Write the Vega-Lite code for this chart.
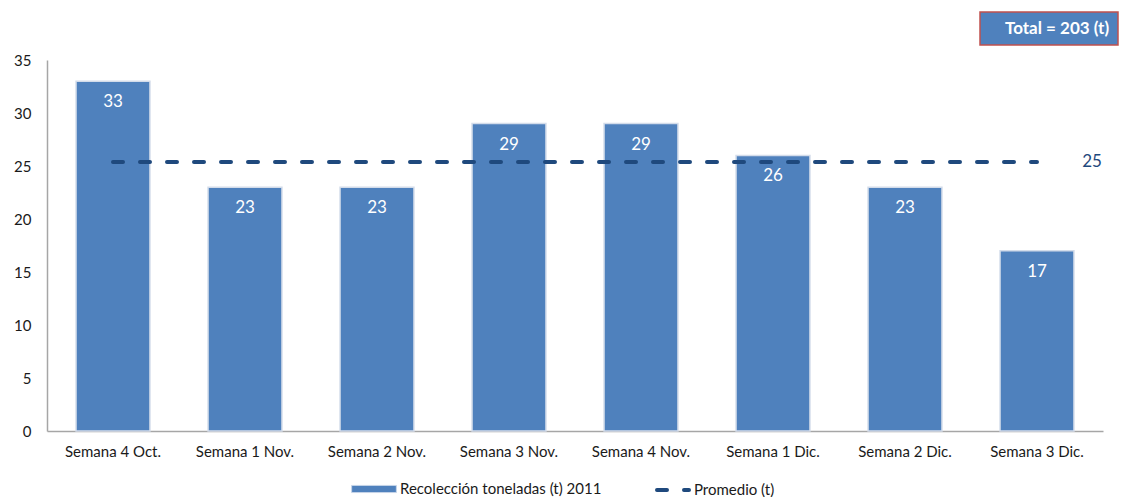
{
  "$schema": "https://vega.github.io/schema/vega-lite/v6.json",
  "description": "Recolección semanal de toneladas 2011 con promedio",
  "autosize": {"type": "none"},
  "padding": {"left": 47, "top": 60, "right": 23, "bottom": 66},
  "width": 1056,
  "height": 371,
  "data": {
    "values": [
      {"semana": "Semana 4 Oct.", "toneladas": 33, "promedio": 25.375},
      {"semana": "Semana 1 Nov.", "toneladas": 23, "promedio": 25.375},
      {"semana": "Semana 2 Nov.", "toneladas": 23, "promedio": 25.375},
      {"semana": "Semana 3 Nov.", "toneladas": 29, "promedio": 25.375},
      {"semana": "Semana 4 Nov.", "toneladas": 29, "promedio": 25.375},
      {"semana": "Semana 1 Dic.", "toneladas": 26, "promedio": 25.375},
      {"semana": "Semana 2 Dic.", "toneladas": 23, "promedio": 25.375},
      {"semana": "Semana 3 Dic.", "toneladas": 17, "promedio": 25.375}
    ]
  },
  "encoding": {
    "x": {
      "field": "semana",
      "type": "nominal",
      "sort": null,
      "scale": {"paddingInner": 0.44, "paddingOuter": 0.22},
      "axis": {
        "title": null,
        "labelAngle": 0,
        "ticks": false,
        "labelPadding": 13,
        "domainColor": "#a6a6a6",
        "domainWidth": 1.5
      }
    }
  },
  "layer": [
    {
      "mark": {"type": "bar", "color": "#4f81bd", "stroke": "#d3dcea", "strokeWidth": 1.5},
      "encoding": {
        "y": {
          "field": "toneladas",
          "type": "quantitative",
          "scale": {"domain": [0, 35], "nice": false},
          "axis": {
            "title": null,
            "values": [0, 5, 10, 15, 20, 25, 30, 35],
            "grid": false,
            "ticks": false,
            "labelPadding": 16,
            "domainColor": "#a6a6a6",
            "domainWidth": 1.5
          }
        },
        "fill": {
          "datum": "Recolección toneladas (t) 2011",
          "type": "nominal",
          "scale": {"range": ["#4f81bd"]},
          "legend": {
            "title": null,
            "orient": "none",
            "legendX": 304,
            "legendY": 406,
            "symbolType": "M-1,-0.16H1V0.16H-1Z",
            "symbolSize": 2000,
            "symbolStrokeColor": "#c6d4e8",
            "symbolStrokeWidth": 1,
            "labelOffset": 3,
            "labelLimit": 400
          }
        }
      }
    },
    {
      "mark": {
        "type": "text",
        "color": "white",
        "baseline": "top",
        "dy": 13,
        "fontSize": 17
      },
      "encoding": {
        "y": {"field": "toneladas", "type": "quantitative"},
        "text": {"field": "toneladas", "type": "quantitative"}
      }
    },
    {
      "mark": {
        "type": "line",
        "color": "#1f497d",
        "strokeWidth": 4,
        "strokeCap": "round"
      },
      "encoding": {
        "y": {"field": "promedio", "type": "quantitative"},
        "strokeDash": {
          "datum": "Promedio (t)",
          "type": "nominal",
          "scale": {"range": [[10, 17]]},
          "legend": {
            "title": null,
            "orient": "none",
            "legendX": 608,
            "legendY": 412,
            "symbolType": "stroke",
            "symbolSize": 1024,
            "symbolStrokeColor": "#1f497d",
            "symbolStrokeWidth": 4,
            "labelOffset": 3,
            "labelLimit": 400,
            "encode": {
              "symbols": {"update": {"strokeDash": {"value": [10, 10]}, "strokeCap": {"value": "round"}}}
            }
          }
        }
      }
    },
    {
      "transform": [{"filter": "datum.semana == 'Semana 3 Dic.'"}],
      "mark": {
        "type": "text",
        "fontSize": 17,
        "align": "center",
        "baseline": "middle",
        "dx": 55
      },
      "encoding": {
        "y": {"field": "promedio", "type": "quantitative"},
        "text": {"field": "promedio", "type": "quantitative", "format": ".0f"},
        "color": {
          "datum": "\u00a0Total = 203 (t)\u00a0\u00a0\u00a0",
          "type": "nominal",
          "scale": {"range": ["#1f497d"]},
          "legend": {
            "title": null,
            "orient": "none",
            "legendX": 933,
            "legendY": -48,
            "fillColor": "#4f81bd",
            "strokeColor": "#c0504d",
            "padding": 8,
            "symbolSize": 0,
            "symbolOpacity": 0,
            "symbolStrokeWidth": 0,
            "labelOffset": 0,
            "labelColor": "white",
            "labelFontWeight": "bold",
            "labelFontSize": 17,
            "labelLimit": 400
          }
        }
      }
    }
  ],
  "config": {
    "font": "Lato",
    "view": {"stroke": null},
    "axis": {"labelFont": "Lato", "labelFontSize": 15, "labelColor": "#1a1a1a"},
    "legend": {
      "labelFont": "Lato",
      "labelFontSize": 15,
      "labelColor": "#1a1a1a",
      "direction": "horizontal",
      "strokeWidth": 1.5
    }
  }
}
